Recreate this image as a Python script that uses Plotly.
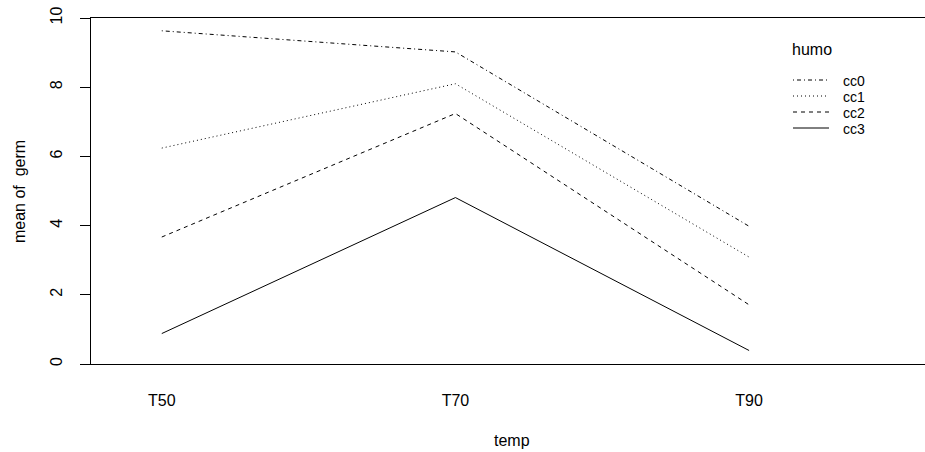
import plotly.graph_objects as go

# ---- data ----
temp_levels = ["T50", "T70", "T90"]
humo_levels = ["cc0", "cc1", "cc2", "cc3"]
cc0 = [9.63, 9.02, 3.98]
cc1 = [6.24, 8.10, 3.09]
cc2 = [3.67, 7.24, 1.71]
cc3 = [0.88, 4.81, 0.39]
series = {"cc0": cc0, "cc1": cc1, "cc2": cc2, "cc3": cc3}
dashes = {"cc0": "1px,3px,4px,3px", "cc1": "1px,3px", "cc2": "4px,4px", "cc3": "solid"}
y_ticks = [0, 2, 4, 6, 8, 10]

W, H = 925, 452
L, R, T, B = 91, 0, 18, 88
pw, ph = W - L - R, H - T - B

def px(x):
    return (x - L) / pw

def py(y):
    return (H - B - y) / ph

FONT = "Liberation Sans, Arial, sans-serif"
xpos = list(range(1, len(temp_levels) + 1))

fig = go.Figure()
for name in humo_levels:
    fig.add_trace(go.Scatter(
        x=xpos, y=series[name], mode="lines", name=name,
        line=dict(color="black", width=1, dash=dashes[name]),
        showlegend=False, hoverinfo="skip"))

# manual legend (R style, no box)
shapes = []
annotations = []
annotations.append(dict(text="humo", x=px(790), y=py(49), xref="paper", yref="paper",
                        xanchor="left", yanchor="middle", showarrow=False,
                        font=dict(family=FONT, size=16, color="black")))
leg_y = [81, 97, 113, 129]
for name, yy in zip(humo_levels, leg_y):
    shapes.append(dict(type="line", xref="paper", yref="paper",
                       x0=px(793), x1=px(829), y0=py(yy - 1), y1=py(yy - 1),
                       line=dict(color="black", width=1, dash=dashes[name])))
    annotations.append(dict(text=name, x=px(842), y=py(yy), xref="paper", yref="paper",
                            xanchor="left", yanchor="middle", showarrow=False,
                            borderpad=0,
                            font=dict(family=FONT, size=14, color="black")))

# axis titles
annotations.append(dict(text="temp", x=px(512), y=py(440), xref="paper", yref="paper",
                        xanchor="center", yanchor="middle", showarrow=False,
                        font=dict(family=FONT, size=16, color="black")))
annotations.append(dict(text="mean of  germ", x=px(19), y=py(192), xref="paper", yref="paper",
                        xanchor="center", yanchor="middle", showarrow=False, textangle=-90,
                        font=dict(family=FONT, size=16, color="black")))

fig.update_layout(
    width=W, height=H,
    margin=dict(l=L, r=R, t=T, b=B, pad=0),
    paper_bgcolor="white", plot_bgcolor="white",
    shapes=shapes, annotations=annotations,
    font=dict(family=FONT, size=16, color="black"),
    xaxis=dict(range=[0.759, 3.599], tickvals=xpos, ticktext=temp_levels,
               showgrid=False, zeroline=False, showline=True, mirror=True,
               linecolor="black", linewidth=1, ticks="", ticklabelstandoff=22,
               tickfont=dict(family=FONT, size=16, color="black")),
    yaxis=dict(range=[0, 10], tickvals=y_ticks, showgrid=False, zeroline=False,
               showline=True, mirror=False, linecolor="black", linewidth=1,
               ticks="outside", ticklen=10, tickcolor="black", tickangle=-90,
               ticklabelstandoff=12,
               tickfont=dict(family=FONT, size=16, color="black")),
)

fig.write_html("out.html")
